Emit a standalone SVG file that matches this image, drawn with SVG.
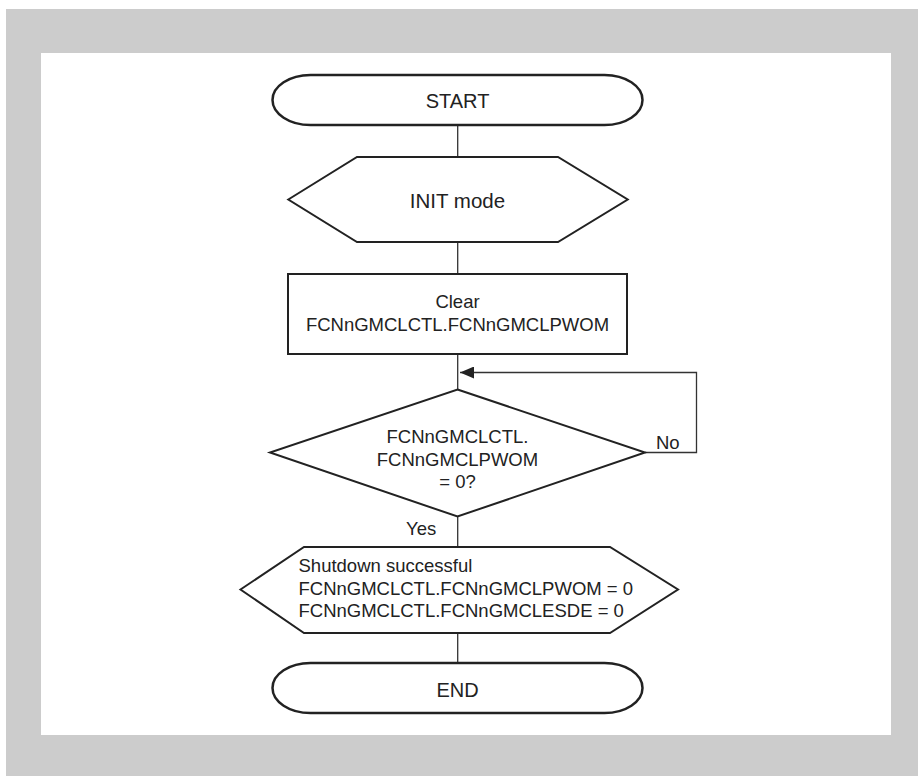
<svg xmlns="http://www.w3.org/2000/svg" width="918" height="776" viewBox="0 0 918 776">
<style>
.shape{fill:#fff;stroke:#222;stroke-width:2}
.term{fill:#fff;stroke:#222;stroke-width:2.5}
.conn{fill:none;stroke:#333;stroke-width:1.3}
text{font-family:"Liberation Sans",Arial,Helvetica,sans-serif;fill:#222}
.c{text-anchor:middle}
.t{font-size:18.5px}
</style>
<defs>
<marker id="arr" markerWidth="14" markerHeight="12" refX="14" refY="6" orient="auto" markerUnits="userSpaceOnUse">
<path d="M0,0 L14,6 L0,12 Z" fill="#222"/>
</marker>
</defs>
<rect x="6" y="9" width="912" height="767" fill="#cccccc"/>
<rect x="41" y="53" width="850" height="682" fill="#ffffff"/>
<g id="connectors">
<line class="conn" x1="457.7" y1="125" x2="457.7" y2="157"/>
<line class="conn" x1="457.7" y1="242" x2="457.7" y2="274"/>
<line class="conn" x1="457.7" y1="354" x2="457.7" y2="389"/>
<path class="conn" d="M645,452.5 H696.5 V372.5 H460" marker-end="url(#arr)"/>
<line class="conn" x1="457.7" y1="517" x2="457.7" y2="547"/>
<line class="conn" x1="457.7" y1="633" x2="457.7" y2="663"/>
<text class="t" x="656" y="449" font-size="19">No</text>
<text class="t" x="406" y="535" font-size="19.5">Yes</text>
</g>
<g id="start">
<rect class="term" x="272.5" y="75" width="370" height="50" rx="38" ry="25"/>
<text class="c" x="457.5" y="108" font-size="20">START</text>
</g>
<g id="init">
<polygon class="shape" points="288.3,199.5 357,157 558,157 627.7,199.5 558,242 357,242"/>
<text class="c" x="457.5" y="208" font-size="20.5">INIT mode</text>
</g>
<g id="clear">
<rect class="shape" x="288" y="274" width="339" height="80"/>
<text class="c t" x="457.5" y="307.5">Clear</text>
<text class="c t" x="457.5" y="331">FCNnGMCLCTL.FCNnGMCLPWOM</text>
</g>
<g id="decision">
<polygon class="shape" points="457.5,389.5 645,452.5 457.5,516.5 270,452.5"/>
<text class="c t" x="457.5" y="443">FCNnGMCLCTL.</text>
<text class="c t" x="457.5" y="465.5">FCNnGMCLPWOM</text>
<text class="c t" x="457.5" y="487.5">= 0?</text>
</g>
<g id="shutdown">
<polygon class="shape" points="240.5,589.5 304,547 610,547 678,589.5 610,633 304,633"/>
<text class="t" x="298.5" y="572">Shutdown successful</text>
<text class="t" x="298.5" y="594.5">FCNnGMCLCTL.FCNnGMCLPWOM = 0</text>
<text class="t" x="298.5" y="617">FCNnGMCLCTL.FCNnGMCLESDE = 0</text>
</g>
<g id="end">
<rect class="term" x="272.5" y="663" width="370" height="50" rx="38" ry="25"/>
<text class="c" x="457.5" y="696.5" font-size="20">END</text>
</g>
</svg>
